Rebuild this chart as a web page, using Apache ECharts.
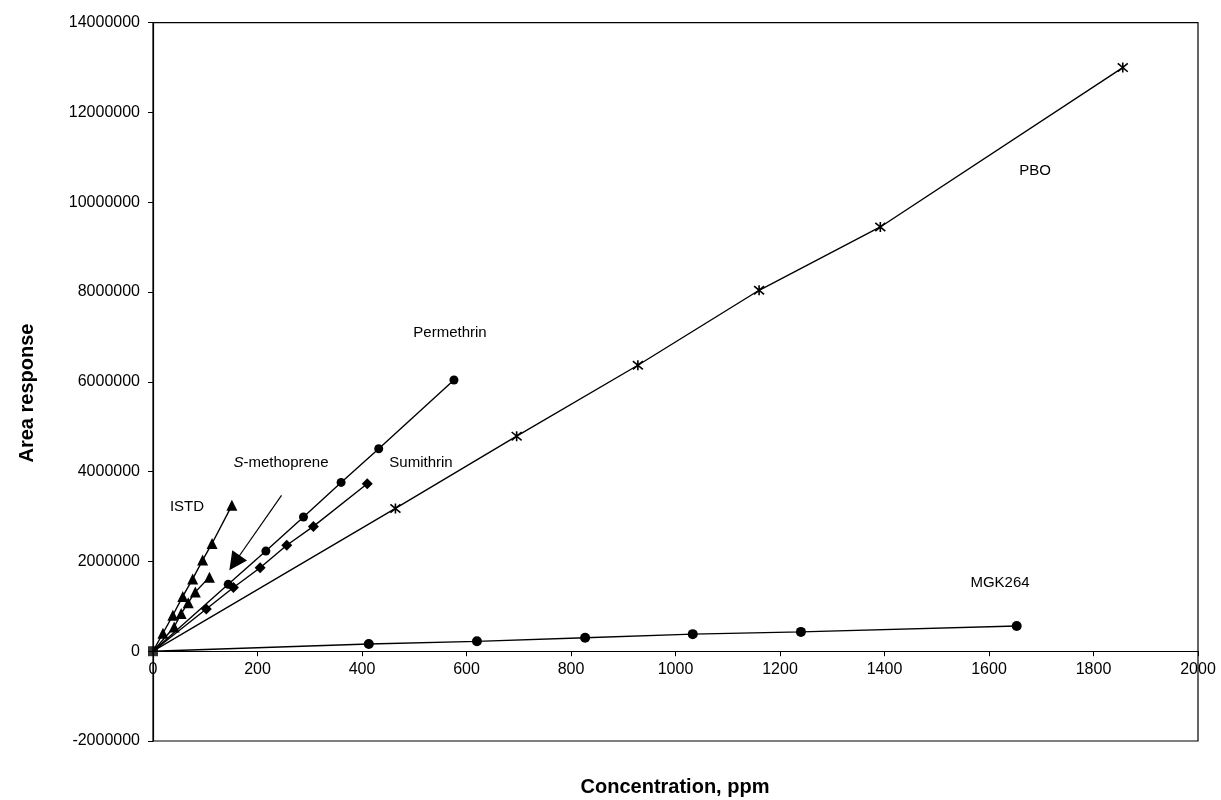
<!DOCTYPE html>
<html>
<head>
<meta charset="utf-8">
<script src="https://cdn.jsdelivr.net/npm/echarts@6/dist/echarts.min.js"></script>
<style>
html,body{margin:0;padding:0;background:#fff;}
#chart{width:1221px;height:800px;}
</style>
</head>
<body>
<div id="chart"></div>
<script>
// ---- data (ppm, area response) ----
const xTicks = [0, 200, 400, 600, 800, 1000, 1200, 1400, 1600, 1800, 2000];
const yTicks = [-2000000, 0, 2000000, 4000000, 6000000, 8000000, 10000000, 12000000, 14000000];

const istdX = [0, 19, 38, 57, 76, 95, 113, 151];
const istdY = [0, 400000, 800000, 1220000, 1610000, 2030000, 2400000, 3250000];

const methopreneX = [0, 40.5, 54, 67.5, 81, 108];
const methopreneY = [0, 540000, 840000, 1080000, 1320000, 1650000];

const permethrinX = [0, 144, 216, 288, 360, 432, 576];
const permethrinY = [0, 1490000, 2230000, 2990000, 3760000, 4510000, 6040000];

const sumithrinX = [0, 102, 154, 205, 256, 307, 410];
const sumithrinY = [0, 940000, 1420000, 1860000, 2360000, 2780000, 3730000];

const pboX = [0, 464, 696, 928, 1160, 1392, 1856];
const pboY = [0, 3180000, 4790000, 6370000, 8040000, 9450000, 13000000];

const mgkX = [0, 413, 620, 827, 1033, 1240, 1653];
const mgkY = [0, 160000, 220000, 300000, 380000, 430000, 560000];

const originX = [0];
const originY = [0];

// arrow from the S-methoprene label toward its line
const arrowFrom = [246, 3470000];
const arrowTo = [156, 1970000];

function pairs(xs, ys) {
  return xs.map((x, i) => (i === 0 && x === 0 && ys[i] === 0)
    ? { value: [x, ys[i]], symbol: 'none' }
    : [x, ys[i]]);
}

const FONT = 'Liberation Sans, Arial, sans-serif';
const asterisk = 'path://M0,0L10,10M10,0L0,10M5,-1L5,11';

const GRID = { left: 153, right: 23, top: 22.7, bottom: 59 };
const plotH = 800 - GRID.top - GRID.bottom;
// shift the x axis up to the y = 0 level
const xAxisOffset = -plotH * (0 - yTicks[0]) / (yTicks[yTicks.length - 1] - yTicks[0]);

const chart = echarts.init(document.getElementById('chart'), null, { renderer: 'canvas' });

function lineSeries(name, xs, ys, symbol, size, extra) {
  return Object.assign({
    name: name,
    type: 'line',
    data: pairs(xs, ys),
    symbol: symbol,
    symbolSize: size,
    showSymbol: true,
    lineStyle: { color: '#000', width: 1.4 },
    itemStyle: { color: '#000' },
    emphasis: { disabled: true },
    z: 3
  }, extra || {});
}

const option = {
  animation: false,
  backgroundColor: '#fff',
  grid: Object.assign({
    show: true, borderColor: '#000', borderWidth: 1.2,
    containLabel: false
  }, GRID),
  xAxis: {
    type: 'value',
    position: 'bottom',
    offset: xAxisOffset,
    min: xTicks[0], max: xTicks[xTicks.length - 1], interval: xTicks[1] - xTicks[0],
    axisLine: { show: true, onZero: false, lineStyle: { color: '#000', width: 1.2 } },
    axisTick: { show: true, inside: false, length: 5, lineStyle: { color: '#000' } },
    axisLabel: { color: '#000', fontSize: 16, fontFamily: FONT, margin: 10,
      formatter: v => String(v) },
    splitLine: { show: false }
  },
  yAxis: {
    type: 'value',
    min: yTicks[0], max: yTicks[yTicks.length - 1], interval: yTicks[1] - yTicks[0],
    axisLine: { show: true, onZero: false, lineStyle: { color: '#000', width: 1.2 } },
    axisTick: { show: true, inside: false, length: 5, lineStyle: { color: '#000' } },
    axisLabel: { color: '#000', fontSize: 16, fontFamily: FONT, margin: 13,
      formatter: v => String(v) },
    splitLine: { show: false }
  },
  series: [
    lineSeries('ISTD', istdX, istdY, 'triangle', 11),
    lineSeries('S-methoprene', methopreneX, methopreneY, 'triangle', 11, {
      markLine: {
        silent: true,
        symbol: ['none', 'triangle'],
        symbolSize: 18,
        label: { show: false },
        lineStyle: { color: '#000', width: 1.2, type: 'solid' },
        data: [[{ coord: arrowFrom }, { coord: arrowTo }]]
      }
    }),
    lineSeries('Permethrin', permethrinX, permethrinY, 'circle', 9),
    lineSeries('Sumithrin', sumithrinX, sumithrinY, 'diamond', 11),
    lineSeries('PBO', pboX, pboY, asterisk, 10, {
      itemStyle: { color: '#000', borderColor: '#000', borderWidth: 1.6 }
    }),
    lineSeries('MGK264', mgkX, mgkY, 'circle', 10),
    {
      name: 'origin', type: 'scatter',
      data: originX.map((x, i) => [x, originY[i]]),
      symbol: 'rect', symbolSize: 10,
      itemStyle: { color: '#000' }, z: 4
    }
  ],
  graphic: [
    { type: 'text', x: 27, y: 393, rotation: Math.PI / 2,
      style: { text: 'Area response', font: 'bold 20px ' + FONT, fill: '#000',
        textAlign: 'center', textVerticalAlign: 'middle' } },
    { type: 'text', x: 675, y: 787,
      style: { text: 'Concentration, ppm', font: 'bold 20px ' + FONT, fill: '#000',
        textAlign: 'center', textVerticalAlign: 'middle' } },
    { type: 'text', x: 450, y: 333,
      style: { text: 'Permethrin', font: '15px ' + FONT, fill: '#000', textAlign: 'center', textVerticalAlign: 'middle' } },
    { type: 'text', x: 281, y: 463,
      style: { text: '{i|S}-methoprene', font: '15px ' + FONT, fill: '#000', textAlign: 'center', textVerticalAlign: 'middle',
        rich: { i: { fontStyle: 'italic', fontSize: 15, fontFamily: FONT } } } },
    { type: 'text', x: 421, y: 463,
      style: { text: 'Sumithrin', font: '15px ' + FONT, fill: '#000', textAlign: 'center', textVerticalAlign: 'middle' } },
    { type: 'text', x: 187, y: 507,
      style: { text: 'ISTD', font: '15px ' + FONT, fill: '#000', textAlign: 'center', textVerticalAlign: 'middle' } },
    { type: 'text', x: 1035, y: 171,
      style: { text: 'PBO', font: '15px ' + FONT, fill: '#000', textAlign: 'center', textVerticalAlign: 'middle' } },
    { type: 'text', x: 1000, y: 583,
      style: { text: 'MGK264', font: '15px ' + FONT, fill: '#000', textAlign: 'center', textVerticalAlign: 'middle' } }
  ]
};
chart.setOption(option);
</script>
</body>
</html>
